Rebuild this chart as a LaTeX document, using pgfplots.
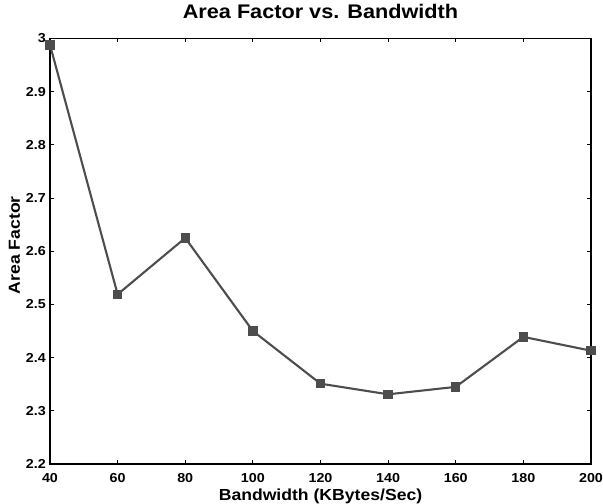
\documentclass[border=0pt]{standalone}
\usepackage{pgfplots}
\pgfplotsset{compat=1.18}
\usepackage{fontspec}
\setmainfont[FakeStretch=1.1]{Liberation Sans}
\definecolor{linegray}{RGB}{77,77,77}
\begin{document}
\begin{tikzpicture}
\begin{axis}[
  scale only axis,
  width=541pt, height=425.5pt,
  xmin=40, xmax=200, ymin=2.2, ymax=3,
  xtick={40,60,...,200},
  ytick={2.2,2.3,...,3.0},
  yticklabels={2.2,2.3,2.4,2.5,2.6,2.7,2.8,2.9,3},
  tick align=inside,
  major tick length=4pt,
  axis line style={line width=1.4pt},
  every tick/.style={black, line width=0.8pt},
  /pgf/number format/assume math mode=true,
  tick label style={font=\fontsize{13}{15}\selectfont\bfseries, inner sep=0pt},
  xticklabel style={anchor=base, yshift=-19pt},
  yticklabel style={anchor=east, xshift=-4pt},
  title={Area Factor vs. Bandwidth},
  title style={font=\fontsize{19.7}{22}\selectfont\bfseries, inner sep=0pt,
    at={([yshift=13.5pt]axis description cs:0.5,1)}, anchor=base},
  xlabel={Bandwidth (KBytes/Sec)},
  ylabel={Area Factor},
  label style={font=\fontsize{16}{18}\selectfont\bfseries, inner sep=0pt},
  xlabel style={at={([yshift=-36.5pt]axis description cs:0.5,0)}, anchor=base},
  ylabel style={at={([xshift=-30pt,yshift=6pt]axis description cs:0,0.5)}, anchor=base},
  clip=false,
]
\addplot[color=linegray, line width=2.1pt, mark=square*, mark size=4.2pt,
  mark options={fill=linegray, draw=linegray, line width=0pt}]
  coordinates {(40,2.988) (60,2.519) (80,2.625) (100,2.45) (120,2.351)
               (140,2.331) (160,2.345) (180,2.439) (200,2.413)};
\end{axis}
\pgfresetboundingbox
\path ([shift={(-50pt,-40pt)}]current axis.south west) rectangle
      ([shift={(12pt,38.5pt)}]current axis.north east);
\end{tikzpicture}
\end{document}
